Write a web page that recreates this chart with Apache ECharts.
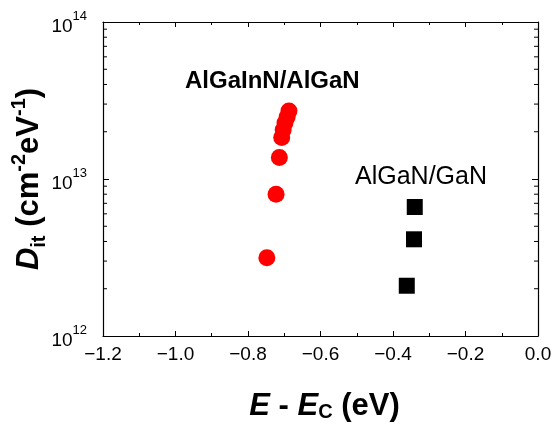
<!DOCTYPE html>
<html>
<head>
<meta charset="utf-8">
<script src="https://cdn.jsdelivr.net/npm/echarts@6/dist/echarts.min.js"></script>
<style>
html,body{margin:0;padding:0;background:#fff;}
#c{width:553px;height:424px;}
</style>
</head>
<body>
<div id="c"></div>
<script>
// ---- data ----
var algainnX = [-0.748, -0.7226, -0.7135, -0.707, -0.703, -0.698, -0.692, -0.687];
var algainnY = [3.15e12, 7.99e12, 1.37e13, 1.84e13, 2.05e13, 2.27e13, 2.48e13, 2.71e13];
var alganX = [-0.362, -0.342, -0.340];
var alganY = [2.09e12, 4.13e12, 6.63e12];
var xMin = -1.2, xMax = 0.0, xStep = 0.2;
var yMin = 1e12, yMax = 1e14;
var yMinorTicks = [2e12,3e12,4e12,5e12,6e12,7e12,8e12,9e12,2e13,3e13,4e13,5e13,6e13,7e13,8e13,9e13];
var seriesNames = ['AlGaInN/AlGaN', 'AlGaN/GaN'];

function zip(a, b) { return a.map(function (v, i) { return [v, b[i]]; }); }

var FONT = '"Liberation Sans", Arial, sans-serif';
var chart = echarts.init(document.getElementById('c'), null, {renderer: 'canvas'});

var xAxisCommon = {
  type: 'value', min: xMin, max: xMax, interval: xStep,
  axisLine: {show: true, onZero: false, lineStyle: {color: '#000', width: 1.2}},
  axisTick: {show: true, inside: true, length: 5, lineStyle: {color: '#000', width: 1}},
  minorTick: {show: true, splitNumber: 2, length: 3, lineStyle: {color: '#000', width: 1}},
  splitLine: {show: false}
};
var yAxisCommon = {
  type: 'log', logBase: 10, min: yMin, max: yMax,
  axisLine: {show: true, onZero: false, lineStyle: {color: '#000', width: 1.2}},
  axisTick: {show: true, inside: true, length: 6, lineStyle: {color: '#000', width: 1}},
  minorTick: {show: false},
  splitLine: {show: false}
};

var option = {
  backgroundColor: '#fff',
  animation: false,
  grid: {left: 103, right: 15, top: 22, bottom: 88, containLabel: false, outerBoundsMode: 'none'},
  xAxis: [
    Object.assign({}, xAxisCommon, {
      position: 'bottom',
      name: '{i|E}{b| - }{i|E}{sub|C}{b| (eV)}',
      nameLocation: 'middle',
      nameGap: 50,
      nameMoveOverlap: false,
      nameTextStyle: {
        padding: [0, 0, 0, 8],
        rich: {
          i: {fontFamily: FONT, fontSize: 31, fontWeight: 'bold', fontStyle: 'italic', color: '#000', verticalAlign: 'bottom', lineHeight: 36},
          b: {fontFamily: FONT, fontSize: 31, fontWeight: 'bold', color: '#000', verticalAlign: 'bottom', lineHeight: 36},
          sub: {fontFamily: FONT, fontSize: 20, fontWeight: 'bold', color: '#000', verticalAlign: 'bottom', lineHeight: 30}
        }
      },
      axisLabel: {
        show: true, margin: 9, color: '#000', fontFamily: FONT, fontSize: 19,
        formatter: function (v) { return v.toFixed(1).replace('-', '\u2212'); }
      }
    }),
    Object.assign({}, xAxisCommon, {position: 'top', axisLabel: {show: false}})
  ],
  yAxis: [
    Object.assign({}, yAxisCommon, {
      position: 'left',
      name: '{i|D}{sub|it}{b| (cm}{sup|-2}{b|eV}{sup|-1}{b|)}',
      nameLocation: 'middle',
      nameRotate: 90,
      nameGap: 54,
      nameMoveOverlap: false,
      nameTextStyle: {
        rich: {
          i: {fontFamily: FONT, fontSize: 31, fontWeight: 'bold', fontStyle: 'italic', color: '#000', verticalAlign: 'middle', lineHeight: 40},
          b: {fontFamily: FONT, fontSize: 31, fontWeight: 'bold', color: '#000', verticalAlign: 'middle', lineHeight: 40},
          sub: {fontFamily: FONT, fontSize: 20, fontWeight: 'bold', color: '#000', verticalAlign: 'bottom', lineHeight: 40},
          sup: {fontFamily: FONT, fontSize: 20, fontWeight: 'bold', color: '#000', verticalAlign: 'top', lineHeight: 40}
        }
      },
      axisLabel: {
        show: true, margin: 16, color: '#000', padding: [2, 0, 0, 0],
        formatter: function (v) {
          var e = Math.round(Math.log(v) / Math.LN10);
          return '{b|10}{s|' + e + '}';
        },
        rich: {
          b: {fontFamily: FONT, fontSize: 19, color: '#000', verticalAlign: 'bottom', lineHeight: 26},
          s: {fontFamily: FONT, fontSize: 13, color: '#000', verticalAlign: 'top', lineHeight: 26}
        }
      }
    }),
    Object.assign({}, yAxisCommon, {position: 'right', axisLabel: {show: false}})
  ],
  graphic: [
    {type: 'text', left: 185, top: 69, style: {text: 'AlGaInN/AlGaN', font: 'bold 24px ' + FONT, fill: '#000'}},
    {type: 'text', left: 355, top: 165, style: {text: 'AlGaN/GaN', font: '25px ' + FONT, fill: '#000'}}
  ],
  series: [
    {
      name: seriesNames[0], type: 'scatter', xAxisIndex: 0, yAxisIndex: 0,
      symbol: 'circle', symbolSize: 17,
      itemStyle: {color: '#ff0000', opacity: 1},
      data: zip(algainnX, algainnY), z: 3
    },
    {
      name: seriesNames[1], type: 'scatter', xAxisIndex: 0, yAxisIndex: 0,
      symbol: 'rect', symbolSize: 16,
      itemStyle: {color: '#000', opacity: 1},
      data: zip(alganX, alganY), z: 3
    },
    {
      name: 'yMinorTicks', type: 'custom', xAxisIndex: 0, yAxisIndex: 0, silent: true, clip: false,
      data: yMinorTicks.map(function (v) { return [xMin, v]; }),
      renderItem: function (params, api) {
        var v = api.value(1);
        var pl = api.coord([xMin, v]);
        var pr = api.coord([xMax, v]);
        var st = {stroke: '#000', lineWidth: 1};
        return {
          type: 'group',
          children: [
            {type: 'line', shape: {x1: pl[0], y1: pl[1], x2: pl[0] + 4, y2: pl[1]}, style: st},
            {type: 'line', shape: {x1: pr[0], y1: pr[1], x2: pr[0] - 4, y2: pr[1]}, style: st}
          ]
        };
      }
    }
  ]
};
chart.setOption(option);
</script>
</body>
</html>
